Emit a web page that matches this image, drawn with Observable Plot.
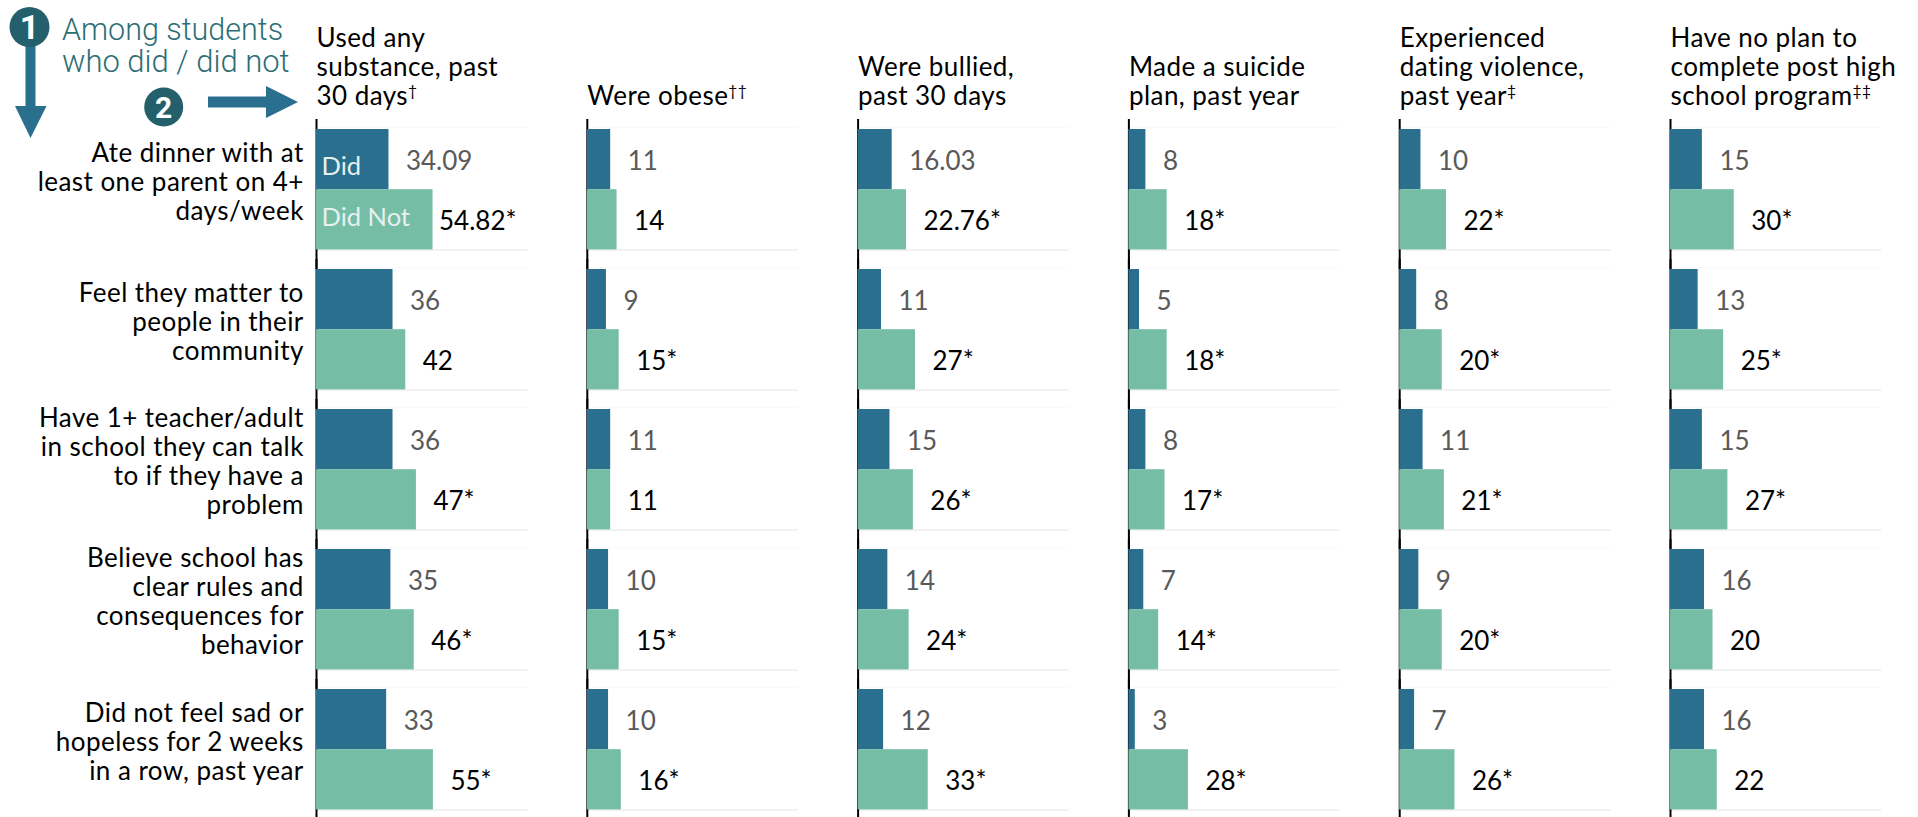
<!DOCTYPE html>
<html><head><meta charset="utf-8">
<script src="https://cdn.jsdelivr.net/npm/d3@7"></script>
<script src="https://cdn.jsdelivr.net/npm/@observablehq/plot@0.6"></script>
<style>html,body{margin:0;padding:0;background:#fff}svg{display:block}
g[aria-label^="fy-axis"] text,g[aria-label^="fx-axis"] text{letter-spacing:.45px}</style>
</head><body><div id="chart"></div>
<script>
const outcomes = ["Used any\nsubstance, past\n30 days†","Were obese††","Were bullied,\npast 30 days","Made a suicide\nplan, past year","Experienced\ndating violence,\npast year‡","Have no plan to\ncomplete post high\nschool program‡‡"];
const factors = ["Ate dinner with at\nleast one parent on 4+\ndays/week","Feel they matter to\npeople in their\ncommunity","Have 1+ teacher/adult\nin school they can talk\nto if they have a\nproblem","Believe school has\nclear rules and\nconsequences for\nbehavior","Did not feel sad or\nhopeless for 2 weeks\nin a row, past year"];
const groups = ["Did","Did Not"];
const didValues = [
 [34.09,11,16.03,8,10,15],
 [36,9,11,5,8,13],
 [36,11,15,8,11,15],
 [35,10,14,7,9,16],
 [33,10,12,3,7,16]];
const didNotValues = [
 [54.82,14,22.76,18,22,30],
 [42,15,27,18,20,25],
 [47,11,26,17,21,27],
 [46,15,24,14,20,20],
 [55,16,33,28,26,22]];
const didNotStars = [
 [1,0,1,1,1,1],
 [0,1,1,1,1,1],
 [1,0,1,1,1,1],
 [1,1,1,1,1,0],
 [1,1,1,1,1,0]];

const rows = [];
factors.forEach((f,i)=>outcomes.forEach((o,j)=>{
  rows.push({factor:f,outcome:o,group:"Did",value:didValues[i][j],label:String(didValues[i][j])});
  rows.push({factor:f,outcome:o,group:"Did Not",value:didNotValues[i][j],label:didNotValues[i][j]+(didNotStars[i][j]?"*":"")});
}));
const firstCell = rows.slice(0,2);
const BODY="Lato, sans-serif", DARK="#2a6f8d", LIGHT="#76bda6", TEAL="#24606b";

const lab = {fx:"outcome",fy:"factor",x:"value",y:"group",text:"label",textAnchor:"start",fontSize:26};
const chart = Plot.plot({
  width:1918,height:817,marginLeft:316,marginRight:38,marginTop:129,marginBottom:7.6,
  style:{fontFamily:BODY,background:"#fff"},
  fx:{domain:outcomes,paddingInner:0.2245,paddingOuter:0,align:0,round:false,label:null},
  fy:{domain:factors,paddingInner:0.14,paddingOuter:0,align:0,round:false,label:null},
  x:{domain:[0,98.8],axis:null},
  y:{domain:groups,padding:0,round:false,axis:null},
  marks:[
    Plot.axisFy({anchor:"left",tickSize:0,tickPadding:12.7,fontSize:26,lineHeight:29/26,dy:-8,fill:"#000",label:null}),
    Plot.axisFx({anchor:"top",tickSize:0,textAnchor:"start",lineAnchor:"bottom",dx:-105,tickPadding:25,fontSize:26,lineHeight:29/26,fill:"#000",label:null}),
    Plot.frame({anchor:"bottom",stroke:"#eeeeee",strokeWidth:1.5}),
    Plot.frame({anchor:"top",stroke:"#f9f9f9",insetTop:-2}),
    Plot.ruleX([0],{stroke:"#000",strokeWidth:2,insetTop:-10,insetBottom:-19.6}),
    Plot.barX(rows,{fx:"outcome",fy:"factor",x:"value",y:"group",fill:d=>d.group==="Did"?DARK:LIGHT}),
    Plot.text(rows.filter(d=>d.group==="Did"),{...lab,dx:17,dy:2.5,fill:"#595959"}),
    Plot.text(rows.filter(d=>d.group!=="Did"&&d.value!==54.82),{...lab,dx:17,dy:1.5,fill:"#000"}),
    Plot.text(rows.filter(d=>d.value===54.82),{...lab,dx:6,dy:1.5,fill:"#000"}),
    Plot.text(firstCell.slice(0,1),{fx:"outcome",fy:"factor",x:()=>0,y:"group",text:"group",textAnchor:"start",dx:5,dy:7,fontSize:25.5,fill:"#e6f0ee"}),
    Plot.text(firstCell.slice(1),{fx:"outcome",fy:"factor",x:()=>0,y:"group",text:"group",textAnchor:"start",dx:5,dy:-2,fontSize:25.5,fill:"#e6f0ee"})
  ]
});
d3.select(chart).selectAll("tspan, text").each(function(){
  if(this.childElementCount) return;
  const s=this.textContent, m=s.match(/^(.*?)([†‡]+)$/);
  if(!m) return;
  this.textContent=m[1];
  d3.select(this).append("tspan").text(m[2]).attr("font-size","0.6em").attr("dy","-0.55em");
});
// Numbered reading guide, top left
const g=d3.select(chart).append("g");
g.append("path").attr("fill",DARK).attr("d","M25.5 46H35.5V106H46.5L30.5 138L15 106H25.5Z");
g.append("path").attr("fill",DARK).attr("d","M208 96.5H266V86L298 102L266 118V107.5H208Z");
g.append("circle").attr("cx",29.5).attr("cy",27).attr("r",20).attr("fill",TEAL);
g.append("circle").attr("cx",163.7).attr("cy",107).attr("r",19.5).attr("fill",TEAL);
const t=(s,x,y,fs,fill,w,anchor)=>g.append("text").text(s).attr("x",x).attr("y",y).attr("font-size",fs).attr("fill",fill).attr("font-weight",w).attr("text-anchor",anchor).attr("font-family","Roboto, sans-serif");
t("1",29.5,39,34,"#fff",700,"middle");
t("2",163.7,118,30,"#fff",700,"middle");
t("Among students",62,40,30.5,"#2c6e76",300,"start");
t("who did / did not",62,72,31,"#2c6e76",300,"start");
document.getElementById("chart").append(chart);
</script></body></html>
